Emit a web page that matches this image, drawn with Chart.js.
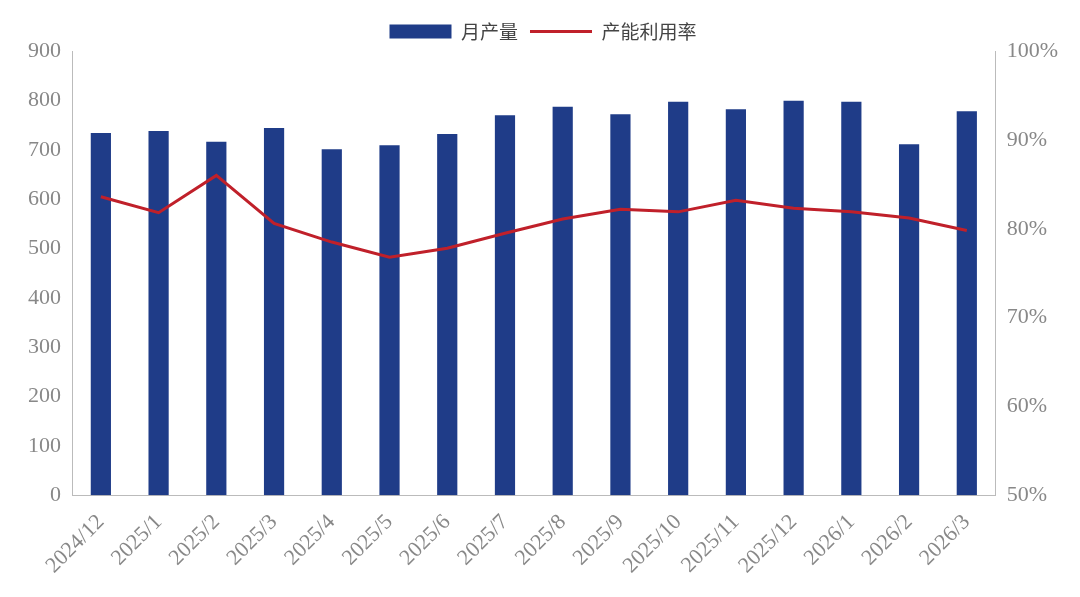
<!DOCTYPE html>
<html><head><meta charset="utf-8">
<script src="https://cdn.jsdelivr.net/npm/chart.js@4"></script>
<style>html,body{margin:0;background:#fff}#w{width:1080px;height:597px}</style>
</head><body><div id="w"><canvas id="c"></canvas></div>
<script>
const categories=["2024/12","2025/1","2025/2","2025/3","2025/4","2025/5","2025/6","2025/7","2025/8","2025/9","2025/10","2025/11","2025/12","2026/1","2026/2","2026/3"];
const output=[734,738,716,744,701,709,732,770,787,772,797,782,799,797,711,778];
const utilization=[83.6,81.8,86.0,80.6,78.5,76.8,77.8,79.5,81.1,82.2,81.9,83.2,82.3,81.9,81.2,79.8];
const tickFont={family:"Liberation Serif",size:22};
new Chart(document.getElementById('c'),{
data:{labels:categories,datasets:[
{type:'line',label:'产能利用率',data:utilization,yAxisID:'y1',borderColor:'#c0202a',backgroundColor:'#c0202a',borderWidth:3,pointRadius:0,tension:0,order:0},
{type:'bar',label:'月产量',data:output,yAxisID:'y',backgroundColor:'#1f3c88',barPercentage:0.35,categoryPercentage:1,order:1}
]},
options:{responsive:true,maintainAspectRatio:false,animation:false,
layout:{padding:{left:25,right:19,top:10,bottom:12}},
plugins:{legend:{position:'top',labels:{font:{family:"Noto Sans CJK SC",size:19},color:'#444',usePointStyle:true,pointStyleWidth:62,boxHeight:14,padding:12,
generateLabels:(ch)=>ch.data.datasets.map((d,i)=>({text:d.label,pointStyle:d.type==='line'?'line':'rect',fillStyle:d.type==='line'?d.borderColor:d.backgroundColor,strokeStyle:d.type==='line'?d.borderColor:d.backgroundColor,lineWidth:d.type==='line'?3:0,datasetIndex:i,fontColor:'#444'})).reverse()}},tooltip:{enabled:false}},
scales:{
x:{grid:{display:false},border:{color:'#bbb'},ticks:{font:tickFont,color:'#888',maxRotation:45,minRotation:45,padding:6}},
y:{position:'left',min:0,max:900,grid:{display:false},border:{color:'#bbb'},ticks:{stepSize:100,font:tickFont,color:'#888'}},
y1:{position:'right',min:50,max:100,grid:{display:false},border:{color:'#bbb'},ticks:{stepSize:10,font:tickFont,color:'#888',callback:v=>v+'%'}}
}}});
</script></body></html>
